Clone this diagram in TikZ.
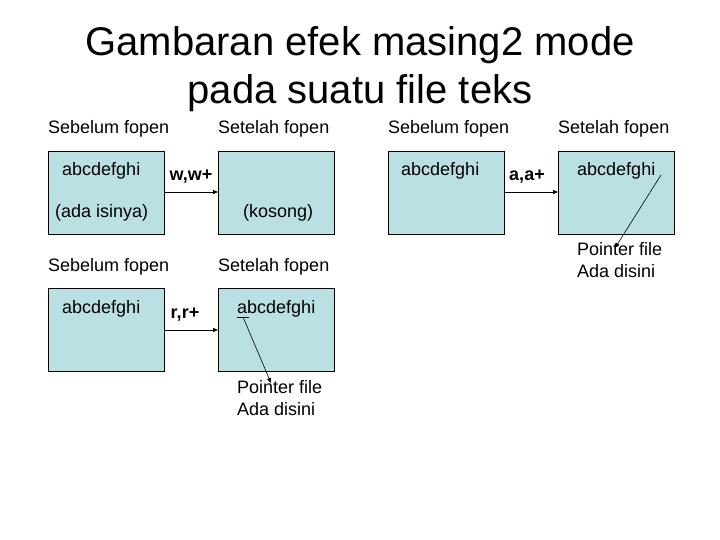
\documentclass[tikz,border=0pt]{standalone}
\usepackage{fontspec}
\setmainfont{Liberation Sans}
\usetikzlibrary{arrows.meta,positioning}
\definecolor{boxblue}{RGB}{187,224,227}
\begin{document}
\begin{tikzpicture}[x=1pt,y=-1pt,
  filebox/.style={draw, fill=boxblue, anchor=north west, inner sep=0pt,
                  minimum width=116pt, minimum height=83pt},
  lbl/.style={font=\fontsize{18}{22}\selectfont, anchor=west, inner sep=0pt},
  mode/.style={font=\bfseries\fontsize{18}{22}\selectfont, inner sep=0pt},
  arr/.style={-{Triangle[length=5pt,width=4pt]}, thick}
]
  \useasboundingbox (0,0) rectangle (720,540);
  \node[font=\fontsize{40}{48}\selectfont, align=center] (title) at (360,69)
    {Gambaran efek masing2 mode\\pada suatu file teks};
  % row 1, w
  \node[lbl] (hb1) at (48,129) {Sebelum fopen};
  \node[lbl] (ha1) at (218,129) {Setelah fopen};
  \node[filebox] (b1) at (48,151) {};
  \node[filebox] (b2) at (218,151) {};
  \node[lbl] (t1) at (62,171) {abcdefghi};
  \node[lbl] (t1b) at (55,213) {(ada isinya)};
  \node[lbl] (t2) at (243,213) {(kosong)};
  \draw[arr] (b1.east |- 0,192) -- (b2.west |- 0,192);
  \node[mode] (mw) at (191,177) {w,w+};
  % row 1, a
  \node[lbl] (hb3) at (388,129) {Sebelum fopen};
  \node[lbl] (ha3) at (558,129) {Setelah fopen};
  \node[filebox] (b3) at (388,151) {};
  \node[filebox] (b4) at (558,151) {};
  \node[lbl] (t3) at (401,171) {abcdefghi};
  \node[lbl] (t4) at (577,171) {abcdefghi};
  \draw[arr] (b3.east |- 0,192) -- (b4.west |- 0,192);
  \node[mode] (ma) at (527,177) {a,a+};
  \node[lbl, align=left] (p4) at (577,260) {Pointer file\\Ada disini};
  \coordinate (s4) at (661,175);
  \coordinate (e4) at (615,248);
  \draw[arr, semithick] (s4) -- (e4);
  % row 2, r
  \node[lbl] (hb5) at (48,267) {Sebelum fopen};
  \node[lbl] (ha5) at (218,267) {Setelah fopen};
  \node[filebox] (b5) at (48,288) {};
  \node[filebox] (b6) at (218,288) {};
  \node[lbl] (t5) at (62,309) {abcdefghi};
  \node[lbl] (t6) at (237,309) {abcdefghi};
  \draw[arr] (b5.east |- 0,330) -- (b6.west |- 0,330);
  \node[mode] (mr) at (185,315) {r,r+};
  \node[lbl, align=left] (p6) at (237,398) {Pointer file\\Ada disini};
  \coordinate (s6) at (243,317);
  \coordinate (e6) at (271,383);
  \draw[semithick] (237,317) -- (249,317);
  \draw[arr, semithick] (s6) -- (e6);
\end{tikzpicture}
\end{document}
